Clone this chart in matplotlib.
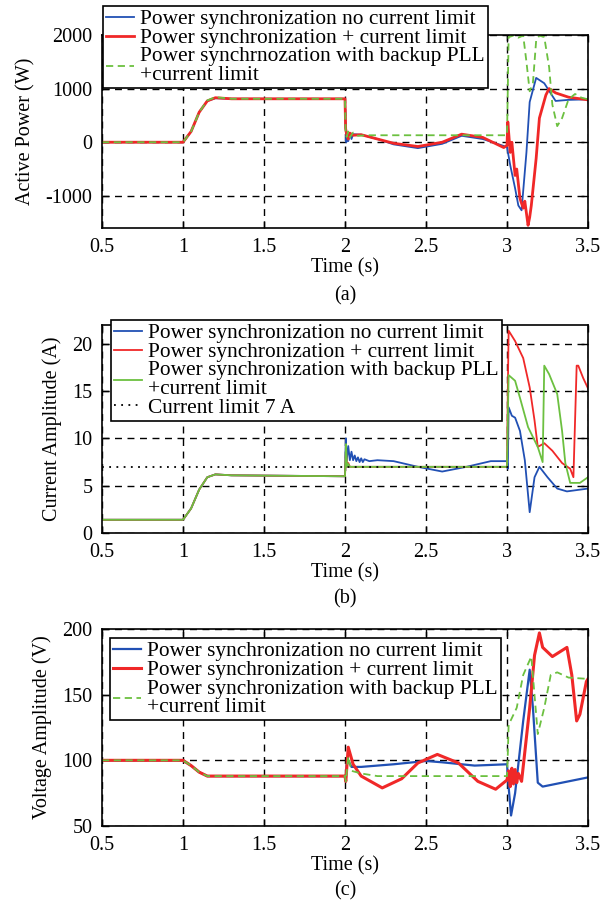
import matplotlib
matplotlib.use("Agg")
import matplotlib.pyplot as plt

plt.rcParams['font.family'] = ['Liberation Serif', 'DejaVu Serif']
plt.rcParams['axes.unicode_minus'] = False

# ---- data (time in s) ----
# (a) active power, W
pa_blue_t = [0.5, 1.0, 1.05, 1.1, 1.15, 1.2, 1.3, 2.0, 2.004, 2.008, 2.015, 2.02, 2.03, 2.04, 2.05,
             2.1, 2.2, 2.3, 2.45, 2.6, 2.72, 2.85, 3.0, 3.02, 3.05, 3.07, 3.09, 3.12, 3.14,
             3.18, 3.23, 3.3, 3.38, 3.5]
pa_blue = [0, 0, 200, 560, 770, 820, 810, 810, 300, 0, 180, 20, 160, 60, 150,
           140, 60, -40, -110, -30, 120, 60, -90, -430, -860, -1180, -1270, -190, 750,
           1200, 1100, 770, 790, 800]

pa_red_t = [0.5, 1.0, 1.05, 1.1, 1.15, 1.2, 1.3, 2.0, 2.004, 2.01, 2.02, 2.03, 2.05, 2.1, 2.2,
            2.3, 2.45, 2.6, 2.72, 2.85, 2.98, 3.0, 3.005, 3.02, 3.03, 3.05, 3.06, 3.08, 3.1,
            3.11, 3.13, 3.14, 3.15, 3.18, 3.2, 3.24, 3.26, 3.3, 3.38, 3.5]
pa_red = [0, 0, 200, 560, 770, 830, 810, 810, 250, 150, 60, 170, 130, 140, 60,
          -20, -80, 0, 150, 90, -100, -60, 380, -190, 0, -620, -500, -1050, -1230,
          -1100, -1550, -1400, -1180, -300, 450, 880, 1000, 920, 840, 790]

pa_green_t = [0.5, 1.0, 1.05, 1.1, 1.15, 1.2, 1.3, 2.0, 2.004, 2.01, 2.02, 2.03, 2.05, 2.08,
              2.15, 3.0, 3.005, 3.01, 3.04, 3.07, 3.1, 3.12, 3.14, 3.16, 3.18, 3.2, 3.23,
              3.26, 3.28, 3.31, 3.34, 3.38, 3.42, 3.46, 3.5]
pa_green = [0, 0, 200, 560, 780, 840, 810, 810, 200, 100, 200, 90, 180, 120,
            130, 130, 1000, 1960, 1990, 1950, 1990, 1500, 950, 1100, 1900, 1990, 1960,
            1400, 700, 300, 450, 800, 900, 830, 800]

# (b) current amplitude, A
pb_blue_t = [0.5, 1.0, 1.05, 1.1, 1.15, 1.2, 1.3, 2.0, 2.005, 2.01, 2.02, 2.03, 2.04, 2.05,
             2.06, 2.07, 2.08, 2.09, 2.1, 2.11, 2.12, 2.15, 2.2, 2.3, 2.45, 2.6, 2.75, 2.9,
             3.0, 3.005, 3.01, 3.03, 3.05, 3.08, 3.11, 3.14, 3.17, 3.2, 3.25, 3.31, 3.37, 3.5]
pb_blue = [1.4, 1.4, 2.6, 4.6, 5.9, 6.2, 6.1, 6.0, 10.0, 7.6, 9.2, 7.7, 8.6, 7.7,
           8.2, 7.6, 8.0, 7.5, 7.9, 7.5, 7.8, 7.6, 7.7, 7.6, 7.0, 6.5, 7.0, 7.6,
           7.6, 6.8, 13.3, 12.4, 12.2, 10.8, 7.7, 2.2, 5.9, 7.0, 5.9, 4.7, 4.4, 4.7]

pb_red_t = [0.5, 1.0, 1.05, 1.1, 1.15, 1.2, 1.3, 2.0, 2.006, 2.012, 2.02, 2.03, 3.0, 3.005,
            3.01, 3.05, 3.1, 3.14, 3.17, 3.19, 3.23, 3.28, 3.34, 3.39, 3.41, 3.43,
            3.44, 3.47, 3.5]
pb_red = [1.4, 1.4, 2.6, 4.6, 5.9, 6.2, 6.1, 6.0, 8.8, 7.0, 7.4, 7.0, 7.0, 15.0,
          21.4, 20.3, 18.5, 15.4, 11.9, 9.1, 9.5, 8.7, 7.4, 6.8, 5.9, 17.7,
          17.7, 16.4, 15.3]

pb_green_t = [0.5, 1.0, 1.05, 1.1, 1.15, 1.2, 1.3, 2.0, 2.006, 2.012, 2.02, 2.03, 3.0, 3.005,
              3.01, 3.05, 3.08, 3.13, 3.19, 3.22, 3.23, 3.26, 3.31, 3.34, 3.36, 3.39,
              3.45, 3.5]
pb_green = [1.4, 1.4, 2.6, 4.6, 5.9, 6.2, 6.1, 6.0, 9.4, 7.0, 7.3, 7.0, 7.0, 12.0,
            16.7, 16.1, 14.3, 11.2, 9.1, 7.5, 17.7, 16.8, 14.7, 10.8, 7.4, 5.3,
            5.3, 5.9]

# (c) voltage amplitude, V
pc_blue_t = [0.5, 1.0, 1.05, 1.1, 1.15, 1.2, 2.0, 2.005, 2.01, 2.02, 2.04, 2.1, 2.3, 2.5,
             2.6, 2.8, 3.0, 3.01, 3.025, 3.05, 3.1, 3.14, 3.16, 3.19, 3.22, 3.3, 3.5]
pc_blue = [100, 100, 96, 91, 88, 88, 88, 84, 97, 100, 95, 95, 97, 99.5,
           98.5, 96, 97, 80, 58, 75, 130, 169, 140, 83, 80, 82, 87]

pc_red_t = [0.5, 1.0, 1.05, 1.1, 1.15, 1.2, 2.0, 2.005, 2.02, 2.05, 2.1, 2.23, 2.35, 2.45,
            2.57, 2.7, 2.82, 2.93, 3.0, 3.01, 3.02, 3.03, 3.04, 3.05, 3.06, 3.07, 3.09,
            3.14, 3.17, 3.2, 3.22, 3.28, 3.37, 3.4, 3.43, 3.45, 3.49, 3.5]
pc_red = [100, 100, 96, 91, 88, 88, 88, 84, 110, 97, 88, 79, 86, 98,
          104.5, 98, 84, 78, 85, 92, 80, 94, 82, 93, 83, 90, 84,
          140, 180, 197, 186, 179, 186, 165, 130, 135, 160, 162]

pc_green_t = [0.5, 1.0, 1.05, 1.1, 1.15, 1.2, 2.0, 2.005, 2.02, 2.04, 2.1, 2.2, 2.5, 3.0,
              3.005, 3.01, 3.06, 3.1, 3.15, 3.19, 3.23, 3.27, 3.31, 3.38, 3.5]
pc_green = [100, 100, 96, 91, 88, 88, 88, 84, 103, 92, 90, 88, 88, 88,
            105, 127, 140, 165, 179, 120, 140, 165, 167, 163, 162]

x_ticks = [0.5, 1, 1.5, 2, 2.5, 3, 3.5]
x_ticklabels = ['0.5', '1', '1.5', '2', '2.5', '3', '3.5']

lbl_blue = 'Power synchronization no current limit'
lbl_red = 'Power synchronization + current limit'
lbl_green_a = 'Power synchrnozation with backup PLL\n+current limit'
lbl_green = 'Power synchronization with backup PLL\n+current limit'
lbl_limit = 'Current limit 7 A'

BLUE = '#2150b4'
RED = '#f02828'
GREEN = '#6cc040'

W, H = 610, 905
fig = plt.figure(figsize=(W / 100, H / 100), dpi=100)


def make_axes(top, bottom, left=102, right=588):
    return fig.add_axes([left / W, 1 - bottom / H, (right - left) / W, (bottom - top) / H])


def style_axes(ax, ylim, yticks, ylabel):
    ax.set_xlim(0.5, 3.5)
    ax.set_ylim(*ylim)
    ax.set_xticks(x_ticks)
    ax.set_xticklabels(x_ticklabels)
    ax.set_yticks(yticks)
    ax.grid(True, color='k', linestyle=(0, (5, 4)), linewidth=1.0)
    ax.tick_params(direction='in', labelsize=14.5, pad=7, length=5, width=1,
                   top=True, right=True)
    for s in ax.spines.values():
        s.set_linewidth(1.2)
    ax.set_ylabel(ylabel, fontsize=14.5, labelpad=7)
    ax.set_xlabel('Time (s)', fontsize=14.5, labelpad=1)


def add_legend(ax, anchor):
    leg = ax.legend(loc='upper left', bbox_to_anchor=anchor, fontsize=15.4,
                    frameon=True, fancybox=False, edgecolor='k', framealpha=1,
                    borderaxespad=0, borderpad=0.15, labelspacing=-0.04,
                    handlelength=1.3, handletextpad=0.3)
    leg.get_frame().set_linewidth(1.2)
    for t in leg.get_texts():
        t.set_linespacing(0.95)
    return leg


# (a)
ax = make_axes(35, 228)
ax.plot(pa_blue_t, pa_blue, color=BLUE, lw=1.3, label=lbl_blue)
ax.plot(pa_red_t, pa_red, color=RED, lw=2.0, label=lbl_red)
ax.plot(pa_green_t, pa_green, color=GREEN, lw=1.3, ls=(0, (4, 2.5)), label=lbl_green_a)
style_axes(ax, (-1600, 2000), [-1000, 0, 1000, 2000], 'Active Power (W)')
add_legend(ax, (0.002, 1.15))
fig.text(345 / W, 1 - 296 / H, '(a)', ha='center', va='center', fontsize=14.5)

# (b)
ax = make_axes(325, 533)
ax.plot(pb_blue_t, pb_blue, color=BLUE, lw=1.3, label=lbl_blue)
ax.plot(pb_red_t, pb_red, color=RED, lw=1.3, label=lbl_red)
ax.plot(pb_green_t, pb_green, color=GREEN, lw=1.3, label=lbl_green)
ax.axhline(7, color='k', ls=(0, (1, 3)), lw=1.3, label=lbl_limit)
style_axes(ax, (0, 22), [0, 5, 10, 15, 20], 'Current Amplitude (A)')
add_legend(ax, (0.0185, 1.024))
fig.text(345 / W, 1 - 599 / H, '(b)', ha='center', va='center', fontsize=14.5)

# (c)
ax = make_axes(629, 826)
ax.plot(pc_blue_t, pc_blue, color=BLUE, lw=1.6, label=lbl_blue)
ax.plot(pc_red_t, pc_red, color=RED, lw=2.2, label=lbl_red)
ax.plot(pc_green_t, pc_green, color=GREEN, lw=1.3, ls=(0, (4, 2.5)), label=lbl_green)
style_axes(ax, (50, 200), [50, 100, 150, 200], 'Voltage Amplitude (V)')
add_legend(ax, (0.0165, 0.954))
fig.text(345 / W, 1 - 891 / H, '(c)', ha='center', va='center', fontsize=14.5)

fig.savefig('out.png', dpi=100)
